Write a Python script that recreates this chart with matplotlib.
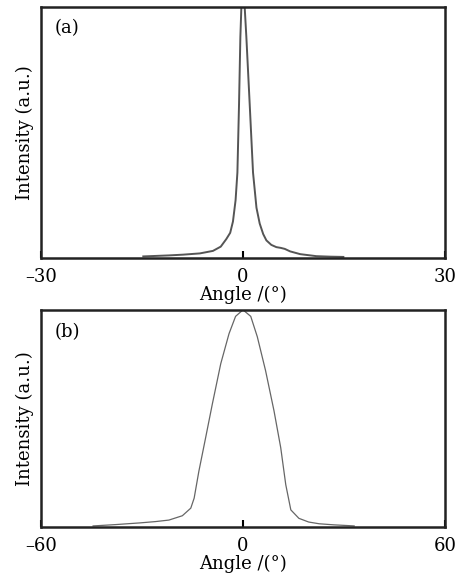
import numpy as np
import matplotlib
matplotlib.use('Agg')
import matplotlib.pyplot as plt

plt.rcParams['font.family'] = ['DejaVu Serif']

# (a) narrow peak
angle_a = [-14.8, -11.0, -8.9, -6.4, -4.46, -3.3, -2.48, -1.9, -1.49, -1.1, -0.83, -0.59, -0.39, -0.24, 0.0,
           0.25, 0.5, 1.0, 1.49, 2.0, 2.48, 3.0, 3.47, 4.2, 4.95, 5.6, 6.2, 7.0, 8.5, 10.9, 13.0, 14.9]
inten_a = [0.006, 0.010, 0.013, 0.018, 0.028, 0.045, 0.075, 0.10, 0.145, 0.23, 0.34, 0.61, 0.88, 1.0, 1.1,
           1.0, 0.88, 0.61, 0.34, 0.20, 0.137, 0.095, 0.07, 0.052, 0.043, 0.040, 0.036, 0.026, 0.015, 0.007, 0.005, 0.004]

# (b) broad peak
angle_b = [-44.5, -38.0, -30.6, -26.0, -22.0, -18.0, -15.5, -14.5, -13.1, -11.1, -9.1, -6.6, -4.15, -2.2, 0.0,
           2.3, 4.25, 6.7, 9.2, 11.2, 12.7, 14.2, 16.6, 19.5, 22.6, 27.0, 30.7, 33.0]
inten_b = [0.004, 0.010, 0.018, 0.024, 0.031, 0.051, 0.086, 0.132, 0.256, 0.41, 0.566, 0.752, 0.89, 0.97, 1.00,
           0.97, 0.876, 0.72, 0.535, 0.365, 0.194, 0.078, 0.039, 0.022, 0.014, 0.009, 0.006, 0.004]

fig = plt.figure(figsize=(4.7, 5.77), dpi=100)
ax1 = fig.add_axes([0.087, 0.553, 0.860, 0.435])
ax2 = fig.add_axes([0.087, 0.087, 0.860, 0.376])

ax1.plot(angle_a, inten_a, color='#555555', lw=1.4)
ax1.set_xlim(-30, 30)
ax1.set_ylim(0, 1.0)
ax1.set_xticks([-30, 0, 30])
ax1.set_xticklabels(['\u201330', '0', '30'])
ax1.text(0.035, 0.95, '(a)', transform=ax1.transAxes, fontsize=13, va='top')

ax2.plot(angle_b, inten_b, color='#666666', lw=0.9)
ax2.set_xlim(-60, 60)
ax2.set_ylim(0, 1.0)
ax2.set_xticks([-60, 0, 60])
ax2.set_xticklabels(['\u201360', '0', '60'])
ax2.text(0.035, 0.94, '(b)', transform=ax2.transAxes, fontsize=13, va='top')

for ax in (ax1, ax2):
    ax.set_yticks([])
    ax.tick_params(axis='x', direction='in', length=5, width=1.5, labelsize=13, pad=7)
    ax.set_xlabel('Angle /(\u00b0)', fontsize=13, labelpad=0)
    ax.set_ylabel('Intensity (a.u.)', fontsize=13, labelpad=5)
    for s in ax.spines.values():
        s.set_linewidth(1.8)
        s.set_color('#222222')

fig.savefig('out.png', dpi=100)
